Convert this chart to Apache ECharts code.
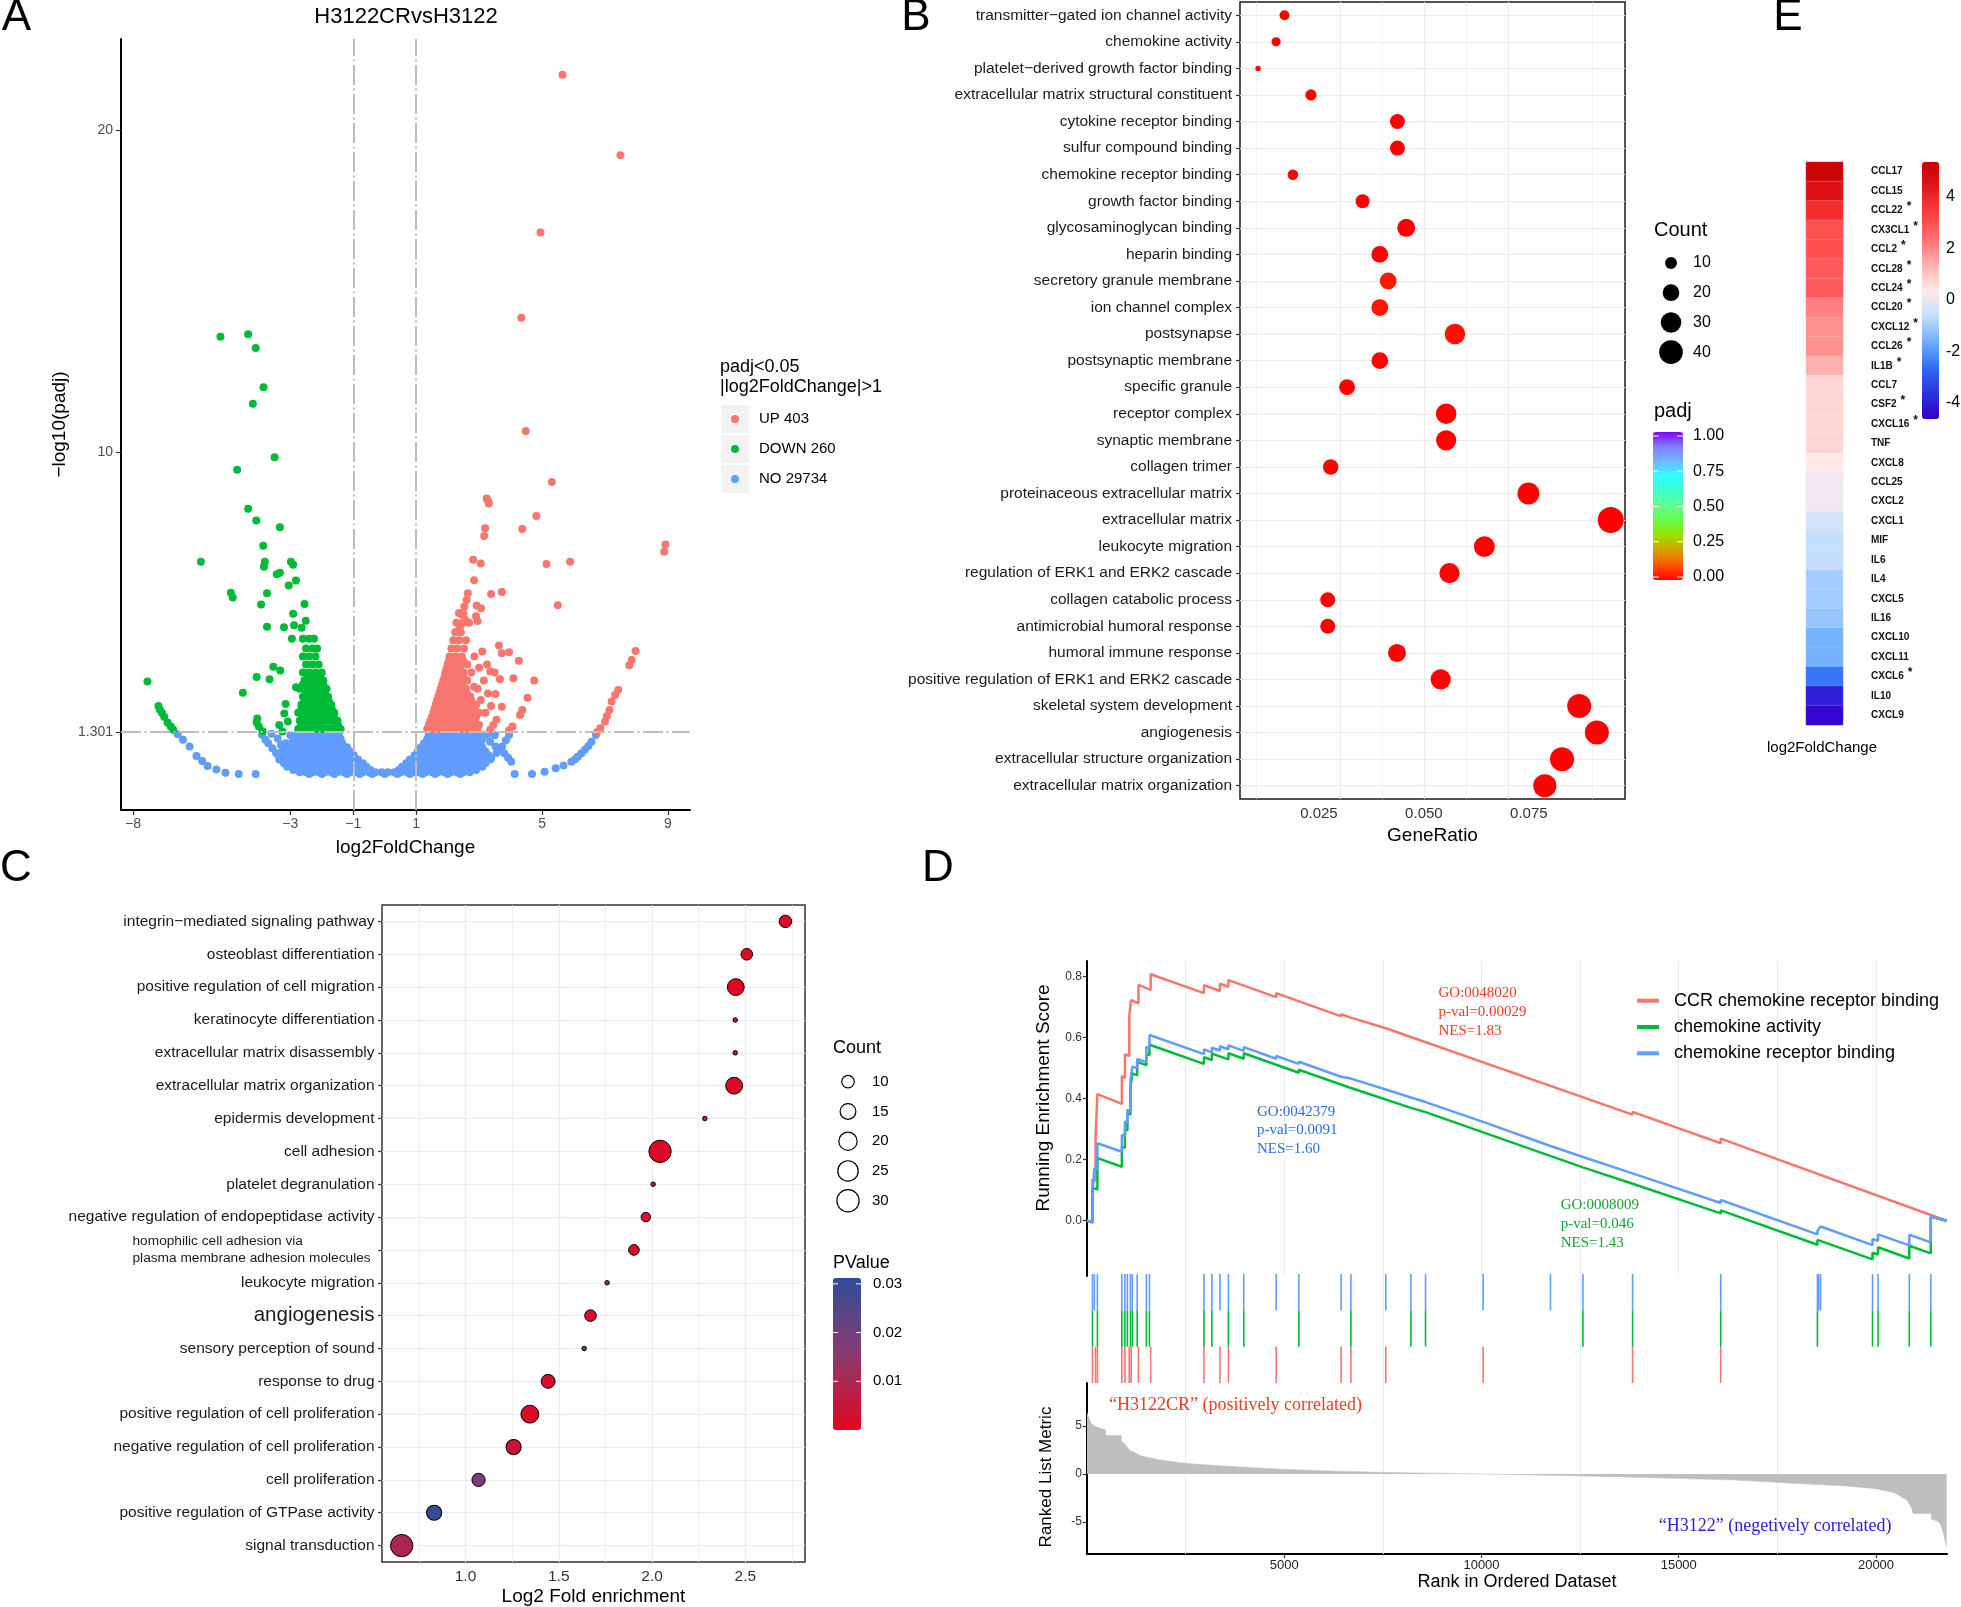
<!DOCTYPE html>
<html><head><meta charset="utf-8">
<script src="https://cdn.jsdelivr.net/npm/echarts@6/dist/echarts.min.js"></script>
<style>html,body{margin:0;padding:0;background:#fff}#c{width:1961px;height:1607px}</style>
</head><body><div id="c"></div>
<script>
const SANS = '"Liberation Sans", Arial, Helvetica, sans-serif';
const SERIF = '"Liberation Serif", "Times New Roman", serif';

// ---------------- Panel A : volcano ----------------
const volcanoTitle = 'H3122CRvsH3122';
const volcanoXTicks = [-8, -3, -1, 1, 5, 9];
const volcanoYTicks = [1.301, 10, 20];
const volcanoCutX = [-1, 1];
const volcanoCutY = 1.301;
const volcanoLegendTitle = ['padj<0.05', '|log2FoldChange|>1'];
const volcanoGroups = ['UP 403', 'DOWN 260', 'NO 29734'];
const volcanoColors = ['#F8766D', '#00BA38', '#619CFF'];

const upPoints = [
 [5.65,21.72],[7.49,19.22],[4.95,16.82],[4.34,14.17],[4.48,10.65],[5.31,9.07],[3.24,8.56],[3.31,8.4],[3.28,8.48],[4.82,8.01],[4.37,7.61],[3.19,7.63],[3.16,7.39],[8.92,7.13],[8.88,6.9],[5.14,6.52],[5.89,6.59],[2.81,6.65],[3.05,6.54],[2.84,6.02],[2.64,5.61],[2.6,5.4],[3.38,5.59],[3.72,5.65],[5.5,5.24],[2.92,5.23],[3.06,5.15],[2.53,5.2],
 [2.45,4.95],[2.55,4.8],[2.9,4.9],[2.95,4.75],[2.4,4.6],[2.35,4.45],
 [7.97,3.82],[7.85,3.54],[7.77,3.38],[3.63,3.99],[3.95,3.78],[3.72,3.75],[4.26,3.52],[3.35,3.18],[3.49,3.15],[4.09,2.97],[4.75,2.9],[3.66,2.94],[2.84,2.71],[3.28,2.5],[3.52,2.48],[4.54,2.37],[3.38,2.11],[3.72,2.09],[4.37,1.99],[4.3,1.83],[4.06,1.47],[3.95,1.35],[3.55,1.68],[3.45,1.52],[3.35,1.37],[3.1,3.8],[3.25,3.4],[3.0,3.3],[3.15,2.9],[3.05,2.3],[3.2,1.9],
 [7.42,2.61],[7.32,2.45],[7.21,2.25],[7.14,1.99],[7.06,1.8],[7.0,1.63],[6.85,1.42],[6.75,1.3],
 [1.35,1.4],[1.55,1.4],[1.75,1.4],[1.95,1.4],[2.15,1.4],[2.35,1.4],[2.55,1.4],[2.75,1.4],[2.95,1.4],
 [1.4,1.52],[1.6,1.52],[1.8,1.52],[2.0,1.52],[2.2,1.52],[2.4,1.52],[2.6,1.52],[2.8,1.52],[3.0,1.52],
 [1.45,1.65],[1.65,1.65],[1.85,1.65],[2.05,1.65],[2.25,1.65],[2.45,1.65],[2.65,1.65],[2.85,1.65],
 [1.5,1.77],[1.7,1.77],[1.9,1.77],[2.1,1.77],[2.3,1.77],[2.5,1.77],[2.7,1.77],[2.9,1.77],
 [1.55,1.9],[1.75,1.9],[1.95,1.9],[2.15,1.9],[2.35,1.9],[2.55,1.9],[2.75,1.9],[3.0,1.9],
 [1.58,2.02],[1.8,2.02],[2.0,2.02],[2.2,2.02],[2.4,2.02],[2.6,2.02],[2.85,2.02],
 [1.62,2.15],[1.82,2.15],[2.02,2.15],[2.22,2.15],[2.42,2.15],[2.65,2.15],[2.9,2.15],
 [1.66,2.27],[1.88,2.27],[2.08,2.27],[2.3,2.27],[2.5,2.27],[2.75,2.27],
 [1.7,2.4],[1.9,2.4],[2.1,2.4],[2.3,2.4],[2.5,2.4],[2.72,2.4],
 [1.74,2.52],[1.95,2.52],[2.15,2.52],[2.38,2.52],[2.6,2.52],
 [1.78,2.65],[1.96,2.65],[2.15,2.65],[2.35,2.65],[2.58,2.65],[2.95,2.65],
 [1.82,2.77],[2.02,2.77],[2.25,2.77],[2.45,2.77],
 [1.86,2.9],[2.02,2.9],[2.2,2.9],[2.4,2.9],[2.62,2.9],
 [1.9,3.02],[2.1,3.02],[2.3,3.02],[2.5,3.02],
 [1.93,3.15],[2.1,3.15],[2.3,3.15],[2.5,3.15],[2.75,3.15],
 [1.96,3.27],[2.16,3.27],[2.4,3.27],
 [2.0,3.4],[2.2,3.4],[2.4,3.4],[2.62,3.4],
 [2.04,3.52],[2.28,3.52],[2.5,3.52],
 [2.06,3.65],[2.25,3.65],[2.45,3.65],[2.85,3.65],
 [2.12,3.9],[2.3,3.9],[2.52,3.9],
 [2.18,4.15],[2.36,4.15],[2.58,4.15],
 [2.24,4.4],[2.42,4.4],
 [2.28,4.7],[2.48,4.7],[2.68,4.7],
 [2.36,5.0],[2.5,5.0]
];
const downPoints = [
 [-5.22,13.58],[-4.34,13.66],[-4.1,13.23],[-3.85,12.01],[-4.19,11.5],[-3.5,9.84],[-4.69,9.45],[-4.34,8.24],[-4.08,7.87],[-3.33,7.66],[-3.86,7.09],[-5.84,6.59],[-3.81,6.59],[-3.84,6.44],[-2.98,6.59],[-2.91,6.5],[-3.33,6.25],[-3.43,6.2],[-2.82,6.01],[-3.05,5.85],[-4.89,5.63],[-4.83,5.48],[-3.74,5.61],[-3.93,5.26],[-2.55,5.28],[-2.91,4.98],[-2.51,4.76],[-3.74,4.57],[-3.2,4.56],[-2.88,4.62],[-2.64,4.54],[-2.95,4.2],
 [-7.54,2.87],[-4.51,2.52],[-4.07,3.01],[-3.66,2.94],[-3.54,3.33],[-3.32,3.21],[-2.82,2.69],[-3.15,2.17],[-3.19,1.88],[-3.08,1.63],[-3.35,1.52],[-3.25,1.32],
 [-7.19,2.11],[-7.15,2.0],[-7.08,1.9],[-7.01,1.78],[-6.9,1.6],[-6.8,1.47],[-6.72,1.37],
 [-4.07,1.6],[-4.0,1.47],[-3.88,1.33],[-4.05,1.72],
 [-2.75,1.4],[-2.55,1.4],[-2.35,1.4],[-2.15,1.4],[-1.95,1.4],[-1.75,1.4],[-1.55,1.4],[-1.4,1.4],
 [-2.65,1.52],[-2.45,1.52],[-2.25,1.52],[-2.05,1.52],[-1.85,1.52],[-1.65,1.52],[-1.48,1.52],
 [-2.7,1.65],[-2.5,1.65],[-2.3,1.65],[-2.1,1.65],[-1.9,1.65],[-1.7,1.65],[-1.5,1.65],
 [-2.6,1.77],[-2.4,1.77],[-2.2,1.77],[-2.0,1.77],[-1.8,1.77],[-1.62,1.77],
 [-2.75,1.9],[-2.55,1.9],[-2.35,1.9],[-2.15,1.9],[-1.95,1.9],[-1.75,1.9],[-1.6,1.9],
 [-2.65,2.02],[-2.45,2.02],[-2.25,2.02],[-2.05,2.02],[-1.85,2.02],[-1.68,2.02],
 [-2.65,2.15],[-2.45,2.15],[-2.25,2.15],[-2.05,2.15],[-1.85,2.15],[-1.7,2.15],
 [-2.55,2.27],[-2.35,2.27],[-2.15,2.27],[-1.95,2.27],[-1.78,2.27],
 [-2.6,2.4],[-2.4,2.4],[-2.2,2.4],[-2.0,2.4],[-1.8,2.4],
 [-2.5,2.52],[-2.3,2.52],[-2.1,2.52],[-1.9,2.52],
 [-2.7,2.65],[-2.45,2.65],[-2.25,2.65],[-2.05,2.65],[-1.85,2.65],
 [-2.6,2.77],[-2.35,2.77],[-2.15,2.77],[-1.95,2.77],
 [-2.55,2.9],[-2.35,2.9],[-2.15,2.9],[-1.95,2.9],
 [-2.45,3.02],[-2.25,3.02],[-2.05,3.02],
 [-2.6,3.15],[-2.4,3.15],[-2.2,3.15],[-2.0,3.15],
 [-2.5,3.4],[-2.3,3.4],[-2.1,3.4],
 [-2.6,3.65],[-2.4,3.65],[-2.2,3.65],
 [-2.5,3.9],[-2.3,3.9],[-2.15,3.9],
 [-2.6,4.2],[-2.4,4.2],[-2.25,4.2]
];
const noPoints = [
 [-3.0,1.2],[-2.8,1.2],[-2.6,1.2],[-2.4,1.2],[-2.2,1.2],[-2.0,1.2],[-1.8,1.2],[-1.6,1.2],[-1.45,1.2],[1.4,1.2],[1.55,1.2],[1.75,1.2],[1.95,1.2],[2.15,1.2],[2.35,1.2],[2.55,1.2],[2.75,1.2],[2.95,1.2],
 [-2.9,1.08],[-2.7,1.08],[-2.5,1.08],[-2.3,1.08],[-2.1,1.08],[-1.9,1.08],[-1.7,1.08],[-1.5,1.08],[-1.4,1.08],[1.35,1.08],[1.5,1.08],[1.7,1.08],[1.9,1.08],[2.1,1.08],[2.3,1.08],[2.5,1.08],[2.7,1.08],[2.9,1.08],[3.1,1.08],
 [-3.15,0.95],[-2.95,0.95],[-2.75,0.95],[-2.55,0.95],[-2.35,0.95],[-2.15,0.95],[-1.95,0.95],[-1.75,0.95],[-1.55,0.95],[-1.35,0.95],[1.25,0.95],[1.45,0.95],[1.65,0.95],[1.85,0.95],[2.05,0.95],[2.25,0.95],[2.45,0.95],[2.65,0.95],[2.85,0.95],[3.05,0.95],
 [-3.2,0.83],[-3.0,0.83],[-2.8,0.83],[-2.6,0.83],[-2.4,0.83],[-2.2,0.83],[-2.0,0.83],[-1.8,0.83],[-1.6,0.83],[-1.4,0.83],[-1.2,0.83],[1.15,0.83],[1.3,0.83],[1.5,0.83],[1.7,0.83],[1.9,0.83],[2.1,0.83],[2.3,0.83],[2.5,0.83],[2.7,0.83],[2.9,0.83],[3.1,0.83],
 [-3.25,0.7],[-3.05,0.7],[-2.85,0.7],[-2.65,0.7],[-2.45,0.7],[-2.25,0.7],[-2.05,0.7],[-1.85,0.7],[-1.65,0.7],[-1.45,0.7],[-1.25,0.7],[-1.1,0.7],[1.05,0.7],[1.2,0.7],[1.4,0.7],[1.6,0.7],[1.8,0.7],[2.0,0.7],[2.2,0.7],[2.4,0.7],[2.6,0.7],[2.8,0.7],[3.0,0.7],[3.2,0.7],
 [-3.3,0.58],[-3.1,0.58],[-2.9,0.58],[-2.7,0.58],[-2.5,0.58],[-2.3,0.58],[-2.1,0.58],[-1.9,0.58],[-1.7,0.58],[-1.5,0.58],[-1.3,0.58],[-1.1,0.58],[-0.98,0.58],[0.95,0.58],[1.1,0.58],[1.3,0.58],[1.5,0.58],[1.7,0.58],[1.9,0.58],[2.1,0.58],[2.3,0.58],[2.5,0.58],[2.7,0.58],[2.9,0.58],[3.1,0.58],[3.3,0.58],
 [-3.35,0.45],[-3.15,0.45],[-2.95,0.45],[-2.75,0.45],[-2.55,0.45],[-2.35,0.45],[-2.15,0.45],[-1.95,0.45],[-1.75,0.45],[-1.55,0.45],[-1.35,0.45],[-1.15,0.45],[-0.95,0.45],[-0.85,0.45],[0.8,0.45],[0.9,0.45],[1.1,0.45],[1.3,0.45],[1.5,0.45],[1.7,0.45],[1.9,0.45],[2.1,0.45],[2.3,0.45],[2.5,0.45],[2.7,0.45],[2.9,0.45],[3.1,0.45],[3.35,0.45],
 [-3.2,0.33],[-3.0,0.33],[-2.8,0.33],[-2.6,0.33],[-2.4,0.33],[-2.2,0.33],[-2.0,0.33],[-1.8,0.33],[-1.6,0.33],[-1.4,0.33],[-1.2,0.33],[-1.0,0.33],[-0.8,0.33],[-0.7,0.33],[0.68,0.33],[0.8,0.33],[1.0,0.33],[1.2,0.33],[1.4,0.33],[1.6,0.33],[1.8,0.33],[2.0,0.33],[2.2,0.33],[2.4,0.33],[2.6,0.33],[2.8,0.33],[3.0,0.33],[3.2,0.33],
 [-3.1,0.22],[-2.9,0.22],[-2.7,0.22],[-2.5,0.22],[-2.3,0.22],[-2.1,0.22],[-1.9,0.22],[-1.7,0.22],[-1.5,0.22],[-1.3,0.22],[-1.1,0.22],[-0.9,0.22],[-0.7,0.22],[-0.58,0.22],[0.55,0.22],[0.7,0.22],[0.9,0.22],[1.1,0.22],[1.3,0.22],[1.5,0.22],[1.7,0.22],[1.9,0.22],[2.1,0.22],[2.3,0.22],[2.5,0.22],[2.7,0.22],[2.9,0.22],[3.1,0.22],
 [-2.9,0.12],[-2.6,0.12],[-2.4,0.12],[-2.2,0.12],[-2.0,0.12],[-1.8,0.12],[-1.6,0.12],[-1.4,0.12],[-1.2,0.12],[-1.0,0.12],[-0.8,0.12],[-0.6,0.12],[-0.45,0.12],[0.45,0.12],[0.6,0.12],[0.8,0.12],[1.0,0.12],[1.2,0.12],[1.4,0.12],[1.6,0.12],[1.8,0.12],[2.0,0.12],[2.2,0.12],[2.4,0.12],[2.6,0.12],[2.9,0.12],
 [-2.7,0.05],[-2.5,0.05],[-2.3,0.05],[-2.1,0.05],[-1.9,0.05],[-1.7,0.05],[-1.5,0.05],[-1.3,0.05],[-1.1,0.05],[-0.9,0.05],[-0.7,0.05],[-0.5,0.05],[-0.3,0.05],[-0.1,0.05],[0.1,0.05],[0.3,0.05],[0.5,0.05],[0.7,0.05],[0.9,0.05],[1.1,0.05],[1.3,0.05],[1.5,0.05],[1.7,0.05],[1.9,0.05],[2.1,0.05],[2.3,0.05],[2.5,0.05],[2.7,0.05],
 [-2.4,0],[-2.0,0],[-1.6,0],[-1.2,0],[-0.8,0],[-0.4,0],[0,0],[0.4,0],[0.8,0],[1.2,0],[1.6,0],[2.0,0],[2.4,0],
 [-6.58,1.23],[-6.41,1.06],[-6.2,0.85],[-5.98,0.56],[-5.8,0.4],[-5.63,0.25],[-5.35,0.14],[-5.06,0.04],[-4.64,0],[-4.1,0],
 [-3.79,1.06],[-3.7,0.95],[-3.57,0.8],[-3.45,0.65],[-3.36,0.56],[-3.2,0.43],[-3.08,0.33],[-2.95,0.25],[-2.79,0.18],[-2.6,0.1],
 [-3.9,1.22],[-3.6,1.25],[-3.4,1.1],[-3.3,0.9],
 [3.16,1.16],[3.35,1.0],[3.52,0.85],[3.66,0.75],[3.8,0.64],[3.92,0.5],[4.02,0.38],[4.13,0],[4.68,0],[5.08,0.07],[5.43,0.18],[5.68,0.26],[5.93,0.38],[6.05,0.46],[6.14,0.54],[6.25,0.64],[6.36,0.75],[6.47,0.87],[6.57,1.0],[6.71,1.21],
 [3.95,1.21],[3.85,1.05],[3.73,0.85],[3.55,0.65],[3.38,0.49],[3.2,0.38],[3.02,0.28],[2.85,0.2],
 [3.3,1.25],[3.5,1.2]
];

// ---------------- Panel B : GO dot plot ----------------
const bTerms = ['transmitter\u2212gated ion channel activity','chemokine activity','platelet\u2212derived growth factor binding','extracellular matrix structural constituent','cytokine receptor binding','sulfur compound binding','chemokine receptor binding','growth factor binding','glycosaminoglycan binding','heparin binding','secretory granule membrane','ion channel complex','postsynapse','postsynaptic membrane','specific granule','receptor complex','synaptic membrane','collagen trimer','proteinaceous extracellular matrix','extracellular matrix','leukocyte migration','regulation of ERK1 and ERK2 cascade','collagen catabolic process','antimicrobial humoral response','humoral immune response','positive regulation of ERK1 and ERK2 cascade','skeletal system development','angiogenesis','extracellular structure organization','extracellular matrix organization'];
const bGeneRatio = [0.0168,0.0148,0.0105,0.0231,0.0437,0.0437,0.0188,0.0354,0.0458,0.0395,0.0415,0.0395,0.0574,0.0395,0.0317,0.0553,0.0553,0.0278,0.0749,0.0945,0.0644,0.0561,0.0271,0.0271,0.0436,0.054,0.087,0.0912,0.0829,0.0788];
const bCount = [7,6,2,9,16,16,8,14,23,20,20,20,30,20,18,30,29,17,34,48,31,29,16,16,23,29,41,41,41,38];
const bPadj = [0.002,0.002,0.002,0.002,0.002,0.002,0.002,0.002,0.002,0.003,0.03,0.025,0.02,0.003,0.002,0.003,0.003,0.002,0.002,0.002,0.002,0.004,0.002,0.002,0.002,0.002,0.002,0.002,0.002,0.002];
const bXTicks = [0.025, 0.05, 0.075];
const bXMinor = [0.0125, 0.0375, 0.0625, 0.0875];
const bCountLegend = [10, 20, 30, 40];
const bPadjTicks = [0, 0.25, 0.5, 0.75, 1];
const padjColors = ['#FF0000','#FF5500','#D9A000','#99E000','#66FF44','#60FF90','#40FFC8','#30FFFF','#70B8FF','#8080FF','#8000FF'];

// ---------------- Panel E : heatmap ----------------
const eGenes = ['CCL17','CCL15','CCL22','CX3CL1','CCL2','CCL28','CCL24','CCL20','CXCL12','CCL26','IL1B','CCL7','CSF2','CXCL16','TNF','CXCL8','CCL25','CXCL2','CXCL1','MIF','IL6','IL4','CXCL5','IL16','CXCL10','CXCL11','CXCL6','IL10','CXCL9'];
const eLog2FC = [5.2,4.6,3.8,3.0,3.0,2.8,2.8,2.1,1.85,1.85,1.37,0.75,0.75,0.75,0.75,0.4,0.15,0.15,-0.35,-0.6,-0.6,-1.0,-1.0,-1.15,-1.55,-1.55,-2.5,-4.0,-4.5];
const eStarred = ['CCL22','CX3CL1','CCL2','CCL28','CCL24','CCL20','CXCL12','CCL26','IL1B','CSF2','CXCL16','CXCL6'];
const eTicks = [4, 2, 0, -2, -4];
const heatColors = ['#3300CC','#2B33DD','#2F6EF2','#6EAEFF','#C4DFFF','#FFEAEA','#FFB0B0','#FF7070','#FF3E3E','#E41818','#C80000'];

// ---------------- Panel C : enrichment dot plot ----------------
const cTerms = ['integrin\u2212mediated signaling pathway','osteoblast differentiation','positive regulation of cell migration','keratinocyte differentiation','extracellular matrix disassembly','extracellular matrix organization','epidermis development','cell adhesion','platelet degranulation','negative regulation of endopeptidase activity','homophilic cell adhesion via\nplasma membrane adhesion molecules','leukocyte migration','angiogenesis','sensory perception of sound','response to drug','positive regulation of cell proliferation','negative regulation of cell proliferation','cell proliferation','positive regulation of GTPase activity','signal transduction'];
const cEnrich = [2.715,2.508,2.449,2.446,2.446,2.44,2.283,2.043,2.006,1.967,1.903,1.759,1.67,1.636,1.443,1.345,1.258,1.07,0.832,0.658];
const cCount = [10,9,17,5,5,17,5,30,5,7,8,5,9,5,12,19,14,11,14,30];
const cPValue = [0.001,0.002,0.001,0.003,0.004,0.001,0.006,0.001,0.008,0.003,0.002,0.013,0.002,0.02,0.002,0.001,0.004,0.019,0.03,0.01];
const cXTicks = [1.0, 1.5, 2.0, 2.5];
const cXMinor = [0.75, 1.25, 1.75, 2.25, 2.75];
const cCountLegend = [10, 15, 20, 25, 30];
const cPTicks = [0.01, 0.02, 0.03];
const pColors = ['#E30521','#8A3A6E','#2F4D99'];

// ---------------- Panel D : GSEA ----------------
const dSetNames = ['CCR chemokine receptor binding','chemokine activity','chemokine receptor binding'];
const dSetColors = ['#F8766D','#00BA38','#619CFF'];
const dStats = [['GO:0048020','p-val=0.00029','NES=1.83'],['GO:0008009','p-val=0.046','NES=1.43'],['GO:0042379','p-val=0.0091','NES=1.60']];
const esRed = [[0,0],[139,-0.004],[139,0.135],[217,0.131],[217,0.275],[264,0.272],[264,0.415],[884,0.383],[884,0.474],[962,0.468],[962,0.546],[1071,0.54],[1071,0.671],[1118,0.668],[1118,0.723],[1304,0.713],[1304,0.773],[1614,0.757],[1614,0.808],[2964,0.746],[2964,0.772],[3369,0.753],[3369,0.777],[3585,0.767],[3585,0.789],[4795,0.733],[4795,0.746],[6441,0.67],[6441,0.677],[6690,0.666],[6690,0.672],[7574,0.631],[7574,0.635],[13830,0.348],[13830,0.357],[16064,0.254],[16064,0.269],[21790,0.0]];
const esGreen = [[0,0],[139,-0.006],[139,0.108],[264,0.102],[264,0.205],[884,0.177],[884,0.243],[962,0.239],[962,0.299],[1024,0.296],[1024,0.352],[1102,0.348],[1102,0.436],[1149,0.434],[1149,0.483],[1272,0.477],[1272,0.521],[1505,0.51],[1505,0.546],[1583,0.543],[1583,0.577],[2964,0.514],[2964,0.536],[3166,0.527],[3166,0.548],[3585,0.529],[3585,0.549],[3974,0.531],[3974,0.549],[5370,0.485],[5370,0.495],[6690,0.435],[6690,0.44],[8210,0.37],[8210,0.373],[8582,0.356],[8582,0.358],[12571,0.175],[12571,0.179],[13830,0.121],[13830,0.127],[16064,0.024],[16064,0.034],[18516,-0.079],[18516,-0.063],[19912,-0.127],[19912,-0.105],[20052,-0.111],[20052,-0.087],[20845,-0.124],[20845,-0.082],[21389,-0.107],[21389,0.013],[21790,0.0]];
const esBlue = [[0,0],[139,-0.004],[139,0.09],[186,0.088],[186,0.172],[264,0.168],[264,0.254],[884,0.226],[884,0.281],[962,0.277],[962,0.325],[1024,0.322],[1024,0.363],[1102,0.36],[1102,0.461],[1149,0.458],[1149,0.505],[1272,0.5],[1272,0.53],[1505,0.52],[1505,0.57],[1583,0.566],[1583,0.609],[2964,0.546],[2964,0.562],[3166,0.552],[3166,0.567],[3369,0.558],[3369,0.572],[3585,0.562],[3585,0.575],[3974,0.557],[3974,0.569],[4795,0.531],[4795,0.54],[5370,0.514],[5370,0.521],[6441,0.472],[6441,0.477],[6690,0.466],[6690,0.471],[7574,0.43],[7574,0.433],[8210,0.404],[8210,0.406],[8582,0.389],[8582,0.391],[10041,0.324],[11748,0.245],[11748,0.247],[12571,0.209],[12571,0.213],[13830,0.155],[13830,0.161],[16064,0.058],[16064,0.068],[18516,-0.045],[18516,-0.035],[18547,-0.036],[18547,-0.027],[18595,-0.029],[18595,-0.019],[19912,-0.08],[19912,-0.06],[20052,-0.066],[20052,-0.045],[20845,-0.081],[20845,-0.046],[21389,-0.071],[21389,0.014],[21790,0.0]];
const hitsRed = [139,217,264,884,962,1071,1118,1304,1614,2964,3369,3585,4795,6441,6690,7574,10041,13830,16064];
const hitsGreen = [139,264,884,962,1024,1102,1149,1272,1505,1583,2964,3166,3585,3974,5370,6690,8210,8582,12571,13830,16064,18516,19912,20052,20845,21389];
const hitsBlue = [139,186,264,884,962,1024,1102,1149,1272,1505,1583,2964,3166,3369,3585,3974,4795,5370,6441,6690,7574,8210,8582,10041,11748,12571,13830,16064,18516,18547,18595,19912,20052,20845,21389];
const rankedMetric = [[0,6.4],[30,6.35],[100,5.3],[200,4.95],[470,4.6],[471,4.0],[869,4.0],[870,3.4],[945,3.2],[1071,2.5],[1380,1.88],[1847,1.46],[2467,1.12],[3245,0.9],[4020,0.7],[4952,0.49],[6348,0.28],[7900,0.14],[10070,0.0],[11780,-0.14],[13330,-0.28],[14880,-0.45],[16440,-0.63],[17990,-0.98],[19230,-1.25],[20000,-1.53],[20470,-1.95],[20780,-2.71],[20900,-3.5],[20940,-4.1],[21400,-4.1],[21401,-4.7],[21560,-4.9],[21640,-5.3],[21710,-6.2],[21790,-7.6]];
const dXTicks = [5000, 10000, 15000, 20000];
const dESGrid = [2500, 5000, 7500, 10000, 12500, 15000, 17500, 20000];
const dRankGrid = [2500, 7500, 12500, 17500];
const dESTicks = [0, 0.2, 0.4, 0.6, 0.8];
const dRankTicks = [-5, 0, 5];
const dPosLabel = '\u201CH3122CR\u201D (positively correlated)';
const dNegLabel = '\u201CH3122\u201D (negetively correlated)';

// ---------------- helpers ----------------
const bSize = c => 3.75 * Math.sqrt(c);
const cSize = c => 4.5 + 17.8 * Math.sqrt(Math.max(0, (c - 5) / 25));
const minusFmt = v => (v < 0 ? '\u2212' + Math.abs(v) : String(v));

function txt(x, y, text, size, o) {
  o = o || {};
  const a = o.align || 'left', va = o.va || 'middle';
  return { type: 'text', x: x, y: y, z: 100, silent: true, rotation: o.rotation || 0,
    style: { text: text, fontSize: size, fontFamily: o.font || SANS, fontWeight: o.weight || 'normal',
      fill: o.fill || '#000', align: a, textAlign: a, verticalAlign: va, textVerticalAlign: va } };
}
function circ(cx, cy, r, fill, stroke) {
  return { type: 'circle', z: 100, silent: true, shape: { cx: cx, cy: cy, r: r },
    style: stroke ? { fill: '#fff', stroke: stroke, lineWidth: 1.2 } : { fill: fill } };
}
function seg(x1, y1, x2, y2, color, w) {
  return { type: 'line', z: 100, silent: true, shape: { x1: x1, y1: y1, x2: x2, y2: y2 }, style: { stroke: color, lineWidth: w } };
}
function gridLines(xi, yi, xs, ys, ysStyle) {
  const d = [];
  xs.forEach(item => d.push({ xAxis: item[0], lineStyle: { color: '#EBEBEB', width: item[1], type: 'solid' } }));
  ys.forEach(v => d.push({ yAxis: v, lineStyle: { color: '#EBEBEB', width: ysStyle, type: 'solid' } }));
  return { type: 'line', xAxisIndex: xi, yAxisIndex: yi, data: [], z: 1, silent: true,
    markLine: { z: 1, silent: true, symbol: ['none', 'none'], animation: false, label: { show: false }, data: d } };
}

// ---------------- graphics ----------------
const G = [];
[['A', 16.5, 17.5], ['B', 916, 17.5], ['E', 1788, 17.5], ['C', 16, 869], ['D', 938, 869]].forEach(l => G.push(txt(l[1], l[2], l[0], 44, { align: 'center' })));
G.push(txt(406, 17, volcanoTitle, 22, { align: 'center' }));
G.push(txt(720, 367, volcanoLegendTitle[0], 18));
G.push(txt(720, 387, volcanoLegendTitle[1], 18));
volcanoGroups.forEach((lab, i) => {
  G.push({ type: 'rect', z: 99, silent: true, shape: { x: 721, y: 405 + 30 * i, width: 28, height: 28 }, style: { fill: '#F2F2F2' } });
  G.push(circ(735, 419 + 30 * i, 4, volcanoColors[i]));
  G.push(txt(759, 419 + 30 * i, lab, 15));
});
// B legends
G.push(txt(1654, 230, 'Count', 20));
bCountLegend.forEach((c, i) => { G.push(circ(1671, 263 + 29.7 * i, bSize(c) / 2, '#000')); G.push(txt(1693, 263 + 29.7 * i, String(c), 16)); });
G.push(txt(1654, 411, 'padj', 20));
bPadjTicks.forEach(v => { const y = 577 - v * 141; G.push(txt(1693, y, v.toFixed(2), 16)); G.push(seg(1653, y, 1659, y, '#fff', 1)); G.push(seg(1677, y, 1683, y, '#fff', 1)); });
// E legend
eTicks.forEach(v => G.push(txt(1946, 162 + (5.36 - v) / 9.98 * 257, String(v), 16)));
G.push(txt(1822, 748, 'log2FoldChange', 15, { align: 'center' }));
// C legends
G.push(txt(833, 1048, 'Count', 18));
cCountLegend.forEach((c, i) => { G.push(circ(848, 1081.7 + 29.75 * i, cSize(c) / 2, null, '#000')); G.push(txt(872, 1081.7 + 29.75 * i, String(c), 15)); });
G.push(txt(833, 1263, 'PValue', 18));
cPTicks.forEach(v => { const y = 1430 - v / 0.0312 * 152; G.push(txt(873, y, v.toFixed(2), 15)); G.push(seg(833, y, 838, y, '#fff', 1)); G.push(seg(856, y, 861, y, '#fff', 1)); });
// D legend & labels
dSetNames.forEach((n, i) => { const y = 1000.7 + 26.3 * i; G.push(seg(1637, y, 1659, y, dSetColors[i], 4)); G.push(txt(1674, y, n, 18)); });
const statPos = [[1438.5, 993.3, '#EE3B25'], [1560.7, 1205, '#16A232'], [1257, 1111.7, '#2A6BE6']];
dStats.forEach((s, i) => s.forEach((t, j) => G.push(txt(statPos[i][0], statPos[i][1] + 18.8 * j, t, 15, { font: SERIF, fill: statPos[i][2] }))));
G.push(txt(1109, 1405.7, dPosLabel, 18, { font: SERIF, fill: '#E8401E' }));
G.push(txt(1658.7, 1526.7, dNegLabel, 18, { font: SERIF, fill: '#2B22D6' }));
G.push(txt(1044, 1098, 'Running Enrichment Score', 19, { align: 'center', rotation: Math.PI / 2 }));
G.push(txt(1046, 1477, 'Ranked List Metric', 17, { align: 'center', rotation: Math.PI / 2 }));

const tickStyle = { color: '#333', width: 1.2 };
const option = {
  animation: false,
  backgroundColor: '#fff',
  textStyle: { fontFamily: SANS },
  grid: [
    { left: 121, top: 39, width: 569, height: 771 },
    { left: 1240, top: 2, width: 385, height: 797, show: true, borderColor: '#1a1a1a', borderWidth: 1.5, backgroundColor: 'transparent' },
    { left: 1806, top: 162, width: 37, height: 563 },
    { left: 382, top: 905, width: 423, height: 657, show: true, borderColor: '#333', borderWidth: 1.5, backgroundColor: 'transparent' },
    { left: 1087, top: 961, width: 860, height: 315 },
    { left: 1087, top: 1274, width: 860, height: 109 },
    { left: 1087, top: 1383, width: 860, height: 171 }
  ],
  xAxis: [
    { gridIndex: 0, type: 'value', min: -8.38, max: 9.7, splitLine: { show: false },
      axisLine: { onZero: false, lineStyle: { color: '#000', width: 2 } },
      axisTick: { customValues: volcanoXTicks, length: 5, lineStyle: tickStyle },
      axisLabel: { customValues: volcanoXTicks, formatter: minusFmt, fontSize: 14, color: '#4D4D4D', margin: 7 },
      name: 'log2FoldChange', nameLocation: 'middle', nameGap: 28, nameTextStyle: { fontSize: 19, color: '#000' } },
    { gridIndex: 1, type: 'value', min: 0.0062, max: 0.0979, splitLine: { show: false }, axisLine: { show: false },
      axisTick: { customValues: bXTicks, length: 4, lineStyle: tickStyle },
      axisLabel: { customValues: bXTicks, formatter: v => v.toFixed(3), fontSize: 15, color: '#333', margin: 7 },
      name: 'GeneRatio', nameLocation: 'middle', nameGap: 27, nameTextStyle: { fontSize: 19, color: '#000' } },
    { gridIndex: 2, type: 'category', data: [''], show: false },
    { gridIndex: 3, type: 'value', min: 0.5525, max: 2.82, splitLine: { show: false }, axisLine: { show: false },
      axisTick: { customValues: cXTicks, length: 4, lineStyle: tickStyle },
      axisLabel: { customValues: cXTicks, formatter: v => v.toFixed(1), fontSize: 15.5, color: '#333', margin: 7 },
      name: 'Log2 Fold enrichment', nameLocation: 'middle', nameGap: 25, nameTextStyle: { fontSize: 19, color: '#000' } },
    { gridIndex: 4, type: 'value', min: 0, max: 21800, show: false },
    { gridIndex: 5, type: 'value', min: 0, max: 21800, show: false },
    { gridIndex: 6, type: 'value', min: 0, max: 21800, splitLine: { show: false },
      axisLine: { onZero: false, lineStyle: { color: '#000', width: 2 } },
      axisTick: { customValues: dXTicks, length: 4, lineStyle: tickStyle },
      axisLabel: { customValues: dXTicks, formatter: v => String(v), fontSize: 13, color: '#222', margin: 5 },
      name: 'Rank in Ordered Dataset', nameLocation: 'middle', nameGap: 19, nameTextStyle: { fontSize: 18, color: '#000' } }
  ],
  yAxis: [
    { gridIndex: 0, type: 'value', min: -1.12, max: 22.83, splitLine: { show: false },
      axisLine: { onZero: false, lineStyle: { color: '#000', width: 2 } },
      axisTick: { customValues: volcanoYTicks, length: 5, lineStyle: tickStyle },
      axisLabel: { customValues: volcanoYTicks, formatter: v => String(v), fontSize: 14, color: '#4D4D4D', margin: 8 },
      name: '\u2212log10(padj)', nameLocation: 'middle', nameGap: 52, nameRotate: 90, nameTextStyle: { fontSize: 19, color: '#000' } },
    { gridIndex: 1, type: 'category', data: bTerms, inverse: true, splitLine: { show: false }, axisLine: { show: false },
      axisTick: { show: true, alignWithLabel: true, length: 4, lineStyle: tickStyle },
      axisLabel: { interval: 0, fontSize: 15.5, color: '#1a1a1a', margin: 8 } },
    { gridIndex: 2, type: 'category', data: eGenes, inverse: true, position: 'right', splitLine: { show: false },
      axisLine: { show: false }, axisTick: { show: false },
      axisLabel: { interval: 0, margin: 28,
        formatter: v => eStarred.indexOf(v) >= 0 ? '{g|' + v + '}{s|*}' : '{g|' + v + '}',
        rich: { g: { fontSize: 10, fontWeight: 'bold', color: '#111', fontFamily: SANS },
                s: { fontSize: 12, fontWeight: 'bold', color: '#111', padding: [0, 0, 7, 4], fontFamily: SANS } } } },
    { gridIndex: 3, type: 'category', data: cTerms, inverse: true, splitLine: { show: false }, axisLine: { show: false },
      axisTick: { show: true, alignWithLabel: true, length: 4, lineStyle: tickStyle },
      axisLabel: { interval: 0, fontSize: 15.5, color: '#1a1a1a', margin: 7.5,
        formatter: v => v === 'angiogenesis' ? '{big|' + v + '}' : (v.indexOf('\n') >= 0 ? v.split('\n').map(s => '{two|' + s + '}').join('\n') : v),
        rich: { big: { fontSize: 20.5, color: '#1a1a1a', fontFamily: SANS },
                two: { fontSize: 13.7, color: '#1a1a1a', width: 242, align: 'left', lineHeight: 16.7, fontFamily: SANS } } } },
    { gridIndex: 4, type: 'value', min: -0.1813, max: 0.8515, splitLine: { show: false },
      axisLine: { onZero: false, lineStyle: { color: '#000', width: 2 } },
      axisTick: { customValues: dESTicks, length: 4, lineStyle: tickStyle },
      axisLabel: { customValues: dESTicks, formatter: v => v.toFixed(1), fontSize: 12, color: '#333', margin: 5 } },
    { gridIndex: 5, type: 'value', min: 0, max: 3, show: false },
    { gridIndex: 6, type: 'value', min: -8.33, max: 9.48, splitLine: { show: false },
      axisLine: { onZero: false, lineStyle: { color: '#000', width: 2 } },
      axisTick: { customValues: dRankTicks, length: 4, lineStyle: tickStyle },
      axisLabel: { customValues: dRankTicks, fontSize: 12, color: '#333', margin: 5 } }
  ],
  visualMap: [
    { type: 'continuous', seriesIndex: 5, dimension: 3, min: 0, max: 1, calculable: false, show: true, padding: 0,
      left: 1653, top: 432, itemWidth: 30, itemHeight: 148, text: null, inRange: { color: padjColors } },
    { type: 'continuous', seriesIndex: 6, dimension: 2, min: -4.62, max: 5.36, calculable: false, show: true, padding: 0,
      left: 1922, top: 162, itemWidth: 17, itemHeight: 257, text: null, inRange: { color: heatColors } },
    { type: 'continuous', seriesIndex: 8, dimension: 3, min: 0, max: 0.0312, calculable: false, show: true, padding: 0,
      left: 833, top: 1278, itemWidth: 28, itemHeight: 152, text: null, inRange: { color: pColors } }
  ],
  series: [
    { type: 'scatter', xAxisIndex: 0, yAxisIndex: 0, data: noPoints, symbolSize: 8, itemStyle: { color: volcanoColors[2], opacity: 1 }, z: 2 },
    { type: 'scatter', xAxisIndex: 0, yAxisIndex: 0, data: downPoints, symbolSize: 8, itemStyle: { color: volcanoColors[1], opacity: 1 }, z: 2 },
    { type: 'scatter', xAxisIndex: 0, yAxisIndex: 0, data: upPoints, symbolSize: 8, itemStyle: { color: volcanoColors[0], opacity: 1 }, z: 2 },
    { type: 'line', xAxisIndex: 0, yAxisIndex: 0, data: [], z: 5, silent: true,
      markLine: { z: 5, silent: true, symbol: ['none', 'none'], animation: false, label: { show: false },
        lineStyle: { color: '#BDBDBD', width: 2, type: [20, 3.5, 2, 3.5] },
        data: volcanoCutX.map(v => ({ xAxis: v })).concat([{ yAxis: volcanoCutY }]) } },
    gridLines(1, 1, bXMinor.map(v => [v, 0.6]).concat(bXTicks.map(v => [v, 1.2])), bTerms.map((t, i) => i), 1.2),
    { type: 'scatter', xAxisIndex: 1, yAxisIndex: 1, z: 3,
      data: bTerms.map((t, i) => [bGeneRatio[i], i, bCount[i], bPadj[i]]),
      symbolSize: v => bSize(v[2]), itemStyle: { opacity: 1 } },
    { type: 'heatmap', xAxisIndex: 2, yAxisIndex: 2,
      data: eGenes.map((g, i) => [0, i, eLog2FC[i]]),
      itemStyle: { borderColor: 'rgba(255,255,255,0.35)', borderWidth: 0.5 } },
    gridLines(3, 3, cXMinor.map(v => [v, 0.8]).concat(cXTicks.map(v => [v, 1.2])), cTerms.map((t, i) => i), 1.2),
    { type: 'scatter', xAxisIndex: 3, yAxisIndex: 3, z: 3,
      data: cTerms.map((t, i) => [cEnrich[i], i, cCount[i], cPValue[i]]),
      symbolSize: v => cSize(v[2]), itemStyle: { borderColor: '#000', borderWidth: 1, opacity: 1 } },
    gridLines(4, 4, dESGrid.map(v => [v, 1]), [], 1),
    gridLines(5, 5, dRankGrid.map(v => [v, 1]), [], 1),
    gridLines(6, 6, dRankGrid.map(v => [v, 1]), [], 1),
    { type: 'line', xAxisIndex: 6, yAxisIndex: 6, data: rankedMetric, symbol: 'none', showSymbol: false, z: 2,
      lineStyle: { width: 0.5, color: '#BEBEBE' }, areaStyle: { color: '#BEBEBE', opacity: 1 } },
    { type: 'line', xAxisIndex: 4, yAxisIndex: 4, data: esRed, symbol: 'none', showSymbol: false, z: 3,
      lineStyle: { width: 2.5, color: dSetColors[0] }, itemStyle: { color: dSetColors[0] } },
    { type: 'line', xAxisIndex: 4, yAxisIndex: 4, data: esGreen, symbol: 'none', showSymbol: false, z: 3,
      lineStyle: { width: 2.5, color: dSetColors[1] }, itemStyle: { color: dSetColors[1] } },
    { type: 'line', xAxisIndex: 4, yAxisIndex: 4, data: esBlue, symbol: 'none', showSymbol: false, z: 3,
      lineStyle: { width: 2.5, color: dSetColors[2] }, itemStyle: { color: dSetColors[2] } },
    { type: 'scatter', xAxisIndex: 5, yAxisIndex: 5, data: hitsRed.map(r => [r, 0.5]), symbol: 'rect', symbolSize: [1.6, 36.3], itemStyle: { color: dSetColors[0], opacity: 1 }, z: 3 },
    { type: 'scatter', xAxisIndex: 5, yAxisIndex: 5, data: hitsGreen.map(r => [r, 1.5]), symbol: 'rect', symbolSize: [1.6, 36.3], itemStyle: { color: dSetColors[1], opacity: 1 }, z: 3 },
    { type: 'scatter', xAxisIndex: 5, yAxisIndex: 5, data: hitsBlue.map(r => [r, 2.5]), symbol: 'rect', symbolSize: [1.6, 36.3], itemStyle: { color: dSetColors[2], opacity: 1 }, z: 3 }
  ],
  graphic: { elements: G }
};
const chart = echarts.init(document.getElementById('c'), null, { renderer: 'canvas', width: 1961, height: 1607 });
chart.setOption(option);
</script></body></html>
